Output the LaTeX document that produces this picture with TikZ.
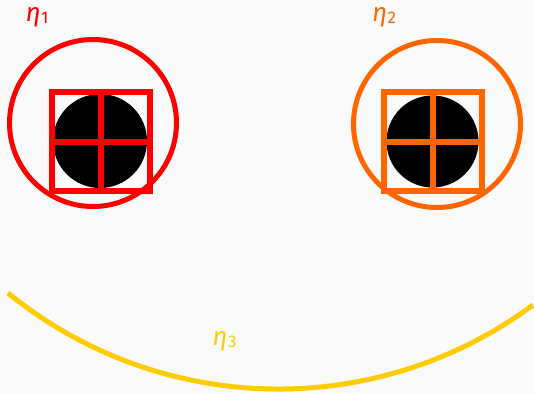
\documentclass[tikz,border=0pt]{standalone}
\usepackage{fontspec}
\newfontfamily\firafont{Fira Sans}
\definecolor{bgc}{HTML}{FAFAFA}
\definecolor{eredc}{HTML}{FF0000}
\definecolor{eorangec}{HTML}{FF6600}
\definecolor{eyellowc}{HTML}{FFCC00}
\tikzset{
  ring/.style={line width=5pt},
  grid/.style={line width=6pt},
  disk/.style={fill=black},
  lab/.style={inner sep=0pt, font=\firafont\fontsize{26}{30}\selectfont},
}
\newcommand{\etalab}[1]{\textit{η}\kern0.3pt\raisebox{-2pt}{\fontsize{17}{19}\selectfont #1}}
\begin{document}
\begin{tikzpicture}[x=1pt,y=-1pt]
\fill[bgc] (0,0) rectangle (534,393);
\useasboundingbox (0,0) rectangle (534,393);
% left
\draw[ring, eredc] (93,123) circle[radius=83.5];
\fill[disk] (100,141) circle[radius=47];
\draw[grid, eredc] (51.5,92) rectangle (149.5,190.5);
\draw[grid, eredc] (100.5,92) -- (100.5,190.5);
\draw[grid, eredc] (51.5,141.5) -- (149.5,141.5);
% right
\draw[ring, eorangec] (437,124) circle[radius=83.5];
\fill[disk] (432.5,141.5) circle[radius=46];
\draw[grid, eorangec] (383.5,92) rectangle (481.5,190.5);
\draw[grid, eorangec] (432.5,92) -- (432.5,190.5);
\draw[grid, eorangec] (383.5,141.5) -- (481.5,141.5);
% arc
\coordinate (as) at (8,293);
\draw[ring, eyellowc] (as) arc[start angle=129.13, end angle=53.5, radius=428.2];
% labels
\node[lab, text=eredc] (l1) at (37,17) {\etalab{1}};
\node[lab, text=eorangec] (l2) at (384,17) {\etalab{2}};
\node[lab, text=eyellowc] (l3) at (224.5,341) {\etalab{3}};
\end{tikzpicture}
\end{document}
